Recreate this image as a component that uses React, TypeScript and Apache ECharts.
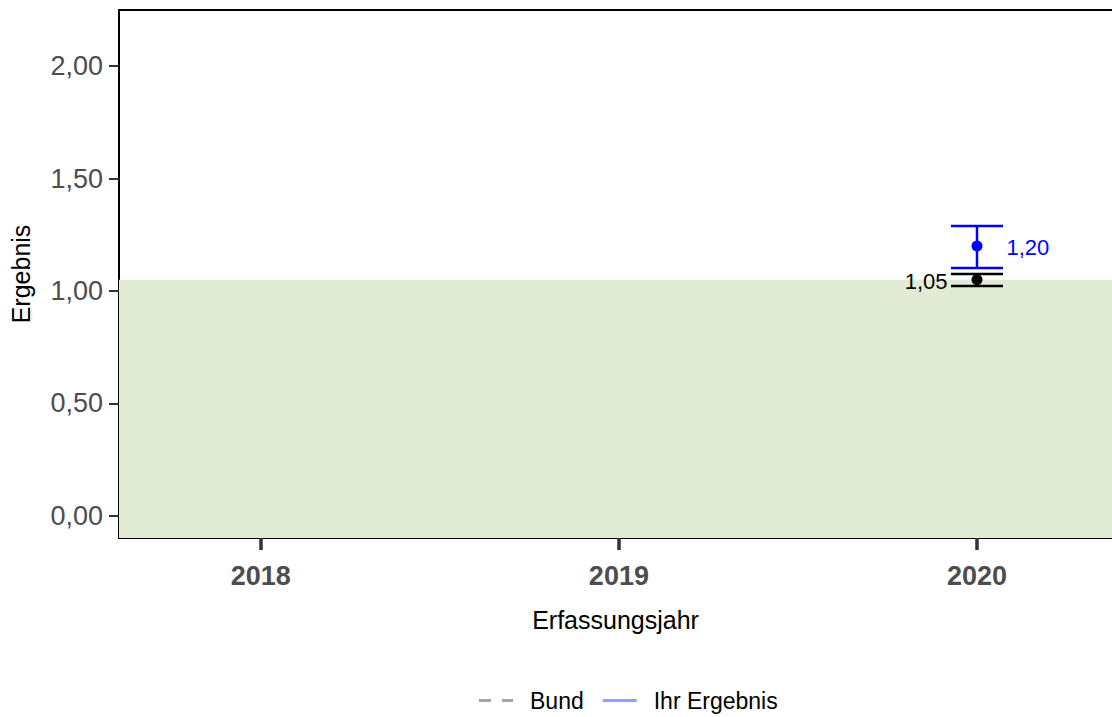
import React, { useEffect, useRef } from "react";
import * as echarts from "echarts";

const years = [2018, 2019, 2020];
const yTicks = [0, 0.5, 1.0, 1.5, 2.0];
const resultYear = [2020];
const resultValue = [1.2];
const resultLow = [1.102];
const resultHigh = [1.289];
const bundValue = [1.05];
const bundLow = [1.022];
const bundHigh = [1.076];
const referenceUpper = 1.05;
const yMin = -0.098;
const yMax = 2.249;
const xMin = 2017.604;
const xMax = 2020.377;

const fmt = (v: number) => v.toFixed(2).replace(".", ",");
const FONT = "Liberation Sans, Arial, sans-serif";

export default function App() {
  const ref = useRef<HTMLDivElement>(null);
  useEffect(() => {
    const chart = echarts.init(ref.current!, null, { renderer: "svg" });
    const errData = (yrs: number[], lo: number[], hi: number[]) =>
      yrs.map((y, i) => [y, lo[i], hi[i]]);
    const errRender = (color: string) => (params: any, api: any) => {
      const x = api.value(0);
      const lo = api.coord([x, api.value(1)]);
      const hi = api.coord([x, api.value(2)]);
      const hw = 26;
      const style = { stroke: color, lineWidth: 2.5 };
      return {
        type: "group",
        children: [
          { type: "line", shape: { x1: lo[0], y1: lo[1], x2: hi[0], y2: hi[1] }, style },
          { type: "line", shape: { x1: lo[0] - hw, y1: lo[1], x2: lo[0] + hw, y2: lo[1] }, style },
          { type: "line", shape: { x1: hi[0] - hw, y1: hi[1], x2: hi[0] + hw, y2: hi[1] }, style },
        ],
      };
    };
    chart.setOption({
      animation: false,
      textStyle: { fontFamily: FONT },
      grid: { left: 118, top: 10, right: 0, bottom: 179 },
      legend: {
        top: 684,
        left: 474,
        itemWidth: 34,
        itemHeight: 3,
        itemGap: 19,
        textStyle: { fontSize: 23, color: "#000", fontFamily: FONT, padding: [0, 0, 0, 12] },
        data: [
          {
            name: "Bund",
            icon: "path://M0,0h12v3h-12z M23,0h11v3h-11z",
            itemStyle: { color: "#a6a6a6" },
          },
          {
            name: "Ihr Ergebnis",
            icon: "path://M0,0h36v3h-36z",
            itemStyle: { color: "#9b9bff" },
          },
        ],
      },
      xAxis: [
        {
          type: "value",
          min: xMin,
          max: xMax,
          axisLine: { show: true, onZero: false, lineStyle: { color: "#000", width: 2 } },
          axisTick: { show: true, customValues: years, length: 12, lineStyle: { color: "#333", width: 3.5 } },
          axisLabel: {
            customValues: years,
            formatter: (v: number) => String(Math.round(v)),
            fontSize: 27,
            fontWeight: "bold",
            color: "#4d4d4d",
            margin: 24,
            fontFamily: FONT,
          },
          splitLine: { show: false },
          name: "Erfassungsjahr",
          nameLocation: "middle",
          nameGap: 69,
          nameTextStyle: { fontSize: 25, color: "#000", fontFamily: FONT },
        },
        {
          type: "value",
          position: "top",
          min: xMin,
          max: xMax,
          axisLine: { show: true, onZero: false, lineStyle: { color: "#000", width: 2 } },
          axisTick: { show: false },
          axisLabel: { show: false },
          splitLine: { show: false },
        },
      ],
      yAxis: {
        type: "value",
        min: yMin,
        max: yMax,
        axisLine: { show: true, onZero: false, lineStyle: { color: "#000", width: 2 } },
        axisTick: { show: true, customValues: yTicks, length: 10, lineStyle: { color: "#333", width: 2 } },
        axisLabel: {
          customValues: yTicks,
          formatter: (v: number) => fmt(v),
          fontSize: 27,
          color: "#4d4d4d",
          margin: 16,
          fontFamily: FONT,
        },
        splitLine: { show: false },
        name: "Ergebnis",
        nameLocation: "middle",
        nameGap: 86,
        nameTextStyle: { fontSize: 25, color: "#000", fontFamily: FONT },
      },
      series: [
        {
          name: "Referenz",
          type: "line",
          data: [],
          markArea: {
            silent: true,
            itemStyle: { color: "#e2ebd4" },
            data: [[{ xAxis: xMin, yAxis: yMin }, { xAxis: xMax, yAxis: referenceUpper }]],
          },
        },
        {
          name: "Bund",
          type: "line",
          data: [],
          symbol: "none",
          itemStyle: { color: "#a6a6a6" },
          lineStyle: { color: "#a6a6a6", type: "dashed", width: 2 },
        },
        {
          name: "Ihr Ergebnis",
          type: "line",
          data: [],
          symbol: "none",
          itemStyle: { color: "#9b9bff" },
          lineStyle: { color: "#9b9bff", width: 2 },
        },
        {
          type: "custom",
          renderItem: errRender("#000"),
          data: errData(resultYear, bundLow, bundHigh),
          z: 3,
        },
        {
          type: "scatter",
          data: resultYear.map((y, i) => [y, bundValue[i]]),
          symbolSize: 11,
          itemStyle: { color: "#000", opacity: 1 },
          label: {
            show: true,
            position: "left",
            distance: 24,
            formatter: (p: any) => fmt(p.value[1]),
            color: "#000",
            fontSize: 22,
            fontFamily: FONT,
            offset: [0, 2],
          },
          z: 4,
        },
        {
          type: "custom",
          renderItem: errRender("#0000ff"),
          data: errData(resultYear, resultLow, resultHigh),
          z: 5,
        },
        {
          type: "scatter",
          data: resultYear.map((y, i) => [y, resultValue[i]]),
          symbolSize: 11,
          itemStyle: { color: "#0000ff", opacity: 1 },
          label: {
            show: true,
            position: "right",
            distance: 24,
            formatter: (p: any) => fmt(p.value[1]),
            color: "#0000ff",
            fontSize: 22,
            fontFamily: FONT,
            offset: [0, 2],
          },
          z: 6,
        },
      ],
    });
    return () => chart.dispose();
  }, []);
  return <div ref={ref} style={{ width: 1112, height: 717, position: "absolute", left: 0, top: 0 }} />;
}
